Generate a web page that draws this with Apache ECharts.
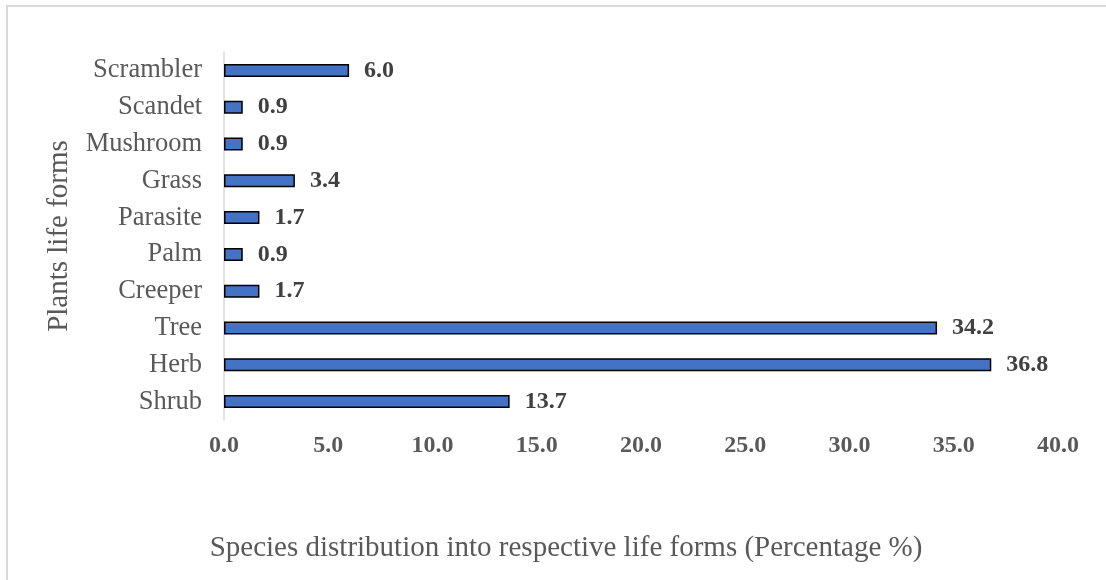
<!DOCTYPE html>
<html>
<head>
<meta charset="utf-8">
<script src="https://cdn.jsdelivr.net/npm/echarts@6/dist/echarts.min.js"></script>
<style>
html,body{margin:0;padding:0;background:#fff;}
#c{width:1106px;height:580px;}
</style>
</head>
<body>
<div id="c"></div>
<script>
const categories = ["Shrub", "Herb", "Tree", "Creeper", "Palm", "Parasite", "Grass", "Mushroom", "Scandet", "Scrambler"];
const values = [13.7, 36.8, 34.2, 1.7, 0.9, 1.7, 3.4, 0.9, 0.9, 6.0];
const xTicks = { min: 0, max: 40, interval: 5 };
const xTitle = "Species distribution into respective life forms (Percentage %)";
const yTitle = "Plants life forms";

const FONT = "Liberation Serif";
const chart = echarts.init(document.getElementById('c'), null, {renderer: 'canvas'});
chart.setOption({
  animation: false,
  backgroundColor: '#fff',
  graphic: [{
    type: 'rect', shape: {x: 7, y: 6, width: 1200, height: 700},
    style: {fill: 'none', stroke: '#d9d9d9', lineWidth: 2}, silent: true, z: -10
  }],
  grid: {left: 224, top: 52, right: 48, bottom: 160, containLabel: false},
  xAxis: {
    type: 'value', min: xTicks.min, max: xTicks.max, interval: xTicks.interval,
    axisLine: {show: false}, axisTick: {show: false}, splitLine: {show: false},
    axisLabel: {formatter: v => v.toFixed(1), color: '#595959', fontFamily: FONT, fontWeight: 'bold', fontSize: 24, margin: 14},
    name: xTitle, nameLocation: 'middle', nameGap: 114,
    nameTextStyle: {color: '#595959', fontFamily: FONT, fontSize: 29, padding: [0, 150, 0, 0]}
  },
  yAxis: {
    type: 'category', data: categories,
    axisLine: {show: true, lineStyle: {color: '#d9d9d9', width: 1.5}},
    axisTick: {show: false}, splitLine: {show: false},
    axisLabel: {color: '#595959', fontFamily: FONT, fontSize: 26.5, margin: 22},
    name: yTitle, nameLocation: 'middle', nameGap: 150, nameRotate: 90,
    nameTextStyle: {color: '#595959', fontFamily: FONT, fontSize: 29}
  },
  series: [{
    type: 'bar', data: values, barWidth: 13,
    itemStyle: {color: '#4472C4', borderColor: '#000', borderWidth: 1.5},
    label: {show: true, position: 'right', distance: 15, formatter: p => p.value.toFixed(1),
      color: '#404040', fontFamily: FONT, fontWeight: 'bold', fontSize: 24}
  }]
});
</script>
</body>
</html>
